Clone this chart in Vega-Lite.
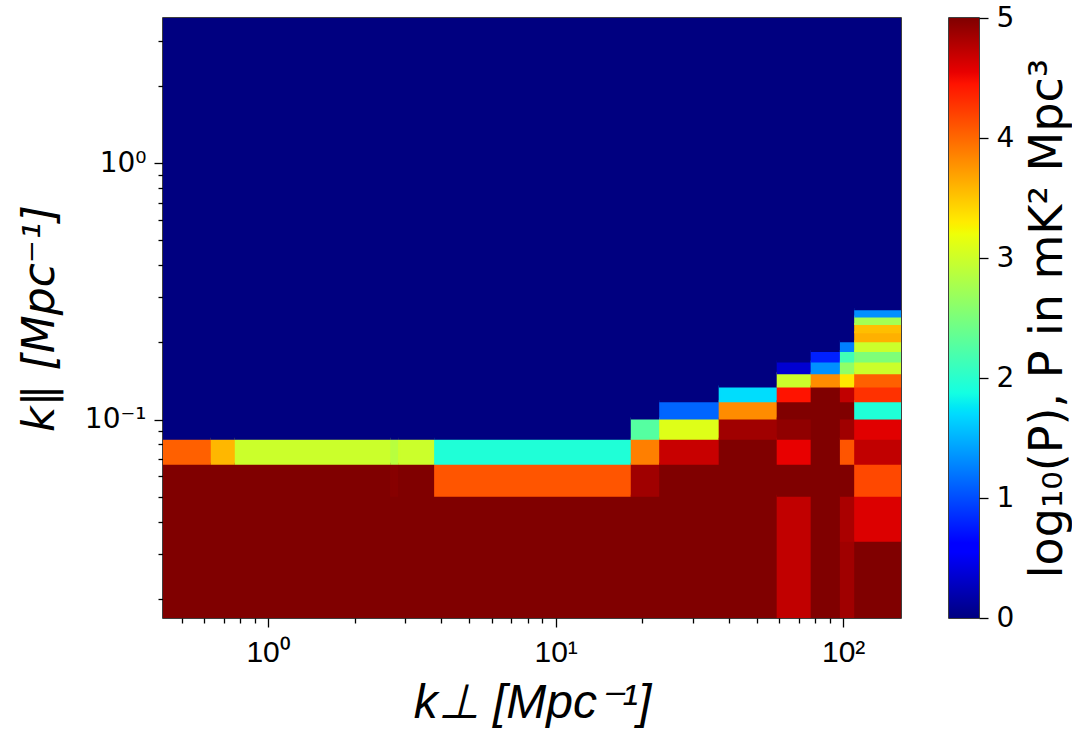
{
  "$schema": "https://vega.github.io/schema/vega-lite/v6.json",
  "background": "white",
  "padding": {"left": 17, "top": 3, "right": 0, "bottom": 0},
  "spacing": 46,
  "config": {
    "view": {"stroke": "black", "strokeWidth": 1.5},
    "axis": {"domain": false, "grid": false, "tickColor": "black", "tickWidth": 1.3, "labelColor": "black", "titleColor": "black", "labelFont": "DejaVu Sans", "titleFont": "DejaVu Sans", "labelFontSize": 28, "titleFontSize": 44, "titleFontWeight": "normal"}
  },
  "hconcat": [
    {
      "width": 738,
      "height": 600,
      "data": {"values": [
        {"k1": 0.431, "k2": 0.637, "p1": 0.0168, "p2": 0.0673, "v": 5},
        {"k1": 0.431, "k2": 0.637, "p1": 0.0673, "p2": 0.0842, "v": 4.04},
        {"k1": 0.431, "k2": 0.637, "p1": 0.0842, "p2": 3.68, "v": 0},
        {"k1": 0.637, "k2": 0.772, "p1": 0.0168, "p2": 0.0673, "v": 5},
        {"k1": 0.637, "k2": 0.772, "p1": 0.0673, "p2": 0.0842, "v": 3.58},
        {"k1": 0.637, "k2": 0.772, "p1": 0.0842, "p2": 3.68, "v": 0},
        {"k1": 0.772, "k2": 2.68, "p1": 0.0168, "p2": 0.0673, "v": 5},
        {"k1": 0.772, "k2": 2.68, "p1": 0.0673, "p2": 0.0842, "v": 2.99},
        {"k1": 0.772, "k2": 2.68, "p1": 0.0842, "p2": 3.68, "v": 0},
        {"k1": 2.68, "k2": 2.855, "p1": 0.0168, "p2": 0.0505, "v": 5},
        {"k1": 2.68, "k2": 2.855, "p1": 0.0505, "p2": 0.0673, "v": 4.97},
        {"k1": 2.68, "k2": 2.855, "p1": 0.0673, "p2": 0.0842, "v": 2.87},
        {"k1": 2.68, "k2": 2.855, "p1": 0.0842, "p2": 3.68, "v": 0},
        {"k1": 2.855, "k2": 3.81, "p1": 0.0168, "p2": 0.0673, "v": 5},
        {"k1": 2.855, "k2": 3.81, "p1": 0.0673, "p2": 0.0842, "v": 2.99},
        {"k1": 2.855, "k2": 3.81, "p1": 0.0842, "p2": 3.68, "v": 0},
        {"k1": 3.81, "k2": 18.4, "p1": 0.0168, "p2": 0.0505, "v": 5},
        {"k1": 3.81, "k2": 18.4, "p1": 0.0505, "p2": 0.0673, "v": 4.1},
        {"k1": 3.81, "k2": 18.4, "p1": 0.0673, "p2": 0.0842, "v": 1.94},
        {"k1": 3.81, "k2": 18.4, "p1": 0.0842, "p2": 3.68, "v": 0},
        {"k1": 18.4, "k2": 23.1, "p1": 0.0168, "p2": 0.0505, "v": 5},
        {"k1": 18.4, "k2": 23.1, "p1": 0.0505, "p2": 0.0673, "v": 4.86},
        {"k1": 18.4, "k2": 23.1, "p1": 0.0673, "p2": 0.0842, "v": 3.88},
        {"k1": 18.4, "k2": 23.1, "p1": 0.0842, "p2": 0.101, "v": 2.27},
        {"k1": 18.4, "k2": 23.1, "p1": 0.101, "p2": 3.68, "v": 0},
        {"k1": 23.1, "k2": 37.2, "p1": 0.0168, "p2": 0.0673, "v": 5},
        {"k1": 23.1, "k2": 37.2, "p1": 0.0673, "p2": 0.0842, "v": 4.69},
        {"k1": 23.1, "k2": 37.2, "p1": 0.0842, "p2": 0.101, "v": 3.1},
        {"k1": 23.1, "k2": 37.2, "p1": 0.101, "p2": 0.1178, "v": 1.12},
        {"k1": 23.1, "k2": 37.2, "p1": 0.1178, "p2": 3.68, "v": 0},
        {"k1": 37.2, "k2": 59.2, "p1": 0.0168, "p2": 0.0842, "v": 5},
        {"k1": 37.2, "k2": 59.2, "p1": 0.0842, "p2": 0.101, "v": 4.86},
        {"k1": 37.2, "k2": 59.2, "p1": 0.101, "p2": 0.1178, "v": 3.81},
        {"k1": 37.2, "k2": 59.2, "p1": 0.1178, "p2": 0.1346, "v": 1.71},
        {"k1": 37.2, "k2": 59.2, "p1": 0.1346, "p2": 3.68, "v": 0},
        {"k1": 59.2, "k2": 77.7, "p1": 0.0168, "p2": 0.0505, "v": 4.72},
        {"k1": 59.2, "k2": 77.7, "p1": 0.0505, "p2": 0.0673, "v": 5},
        {"k1": 59.2, "k2": 77.7, "p1": 0.0673, "p2": 0.0842, "v": 4.55},
        {"k1": 59.2, "k2": 77.7, "p1": 0.0842, "p2": 0.101, "v": 4.93},
        {"k1": 59.2, "k2": 77.7, "p1": 0.101, "p2": 0.1178, "v": 5},
        {"k1": 59.2, "k2": 77.7, "p1": 0.1178, "p2": 0.1346, "v": 4.45},
        {"k1": 59.2, "k2": 77.7, "p1": 0.1346, "p2": 0.1515, "v": 2.99},
        {"k1": 59.2, "k2": 77.7, "p1": 0.1515, "p2": 0.1683, "v": 0.35},
        {"k1": 59.2, "k2": 77.7, "p1": 0.1683, "p2": 3.68, "v": 0},
        {"k1": 77.7, "k2": 98.2, "p1": 0.0168, "p2": 0.1346, "v": 5},
        {"k1": 77.7, "k2": 98.2, "p1": 0.1346, "p2": 0.1515, "v": 3.81},
        {"k1": 77.7, "k2": 98.2, "p1": 0.1515, "p2": 0.1683, "v": 1.33},
        {"k1": 77.7, "k2": 98.2, "p1": 0.1683, "p2": 0.1851, "v": 0.78},
        {"k1": 77.7, "k2": 98.2, "p1": 0.1851, "p2": 3.68, "v": 0},
        {"k1": 98.2, "k2": 110.1, "p1": 0.0168, "p2": 0.0337, "v": 4.86},
        {"k1": 98.2, "k2": 110.1, "p1": 0.0337, "p2": 0.0505, "v": 4.82},
        {"k1": 98.2, "k2": 110.1, "p1": 0.0505, "p2": 0.0673, "v": 5},
        {"k1": 98.2, "k2": 110.1, "p1": 0.0673, "p2": 0.0842, "v": 4.1},
        {"k1": 98.2, "k2": 110.1, "p1": 0.0842, "p2": 0.101, "v": 4.86},
        {"k1": 98.2, "k2": 110.1, "p1": 0.101, "p2": 0.1178, "v": 5},
        {"k1": 98.2, "k2": 110.1, "p1": 0.1178, "p2": 0.1346, "v": 4.72},
        {"k1": 98.2, "k2": 110.1, "p1": 0.1346, "p2": 0.1515, "v": 3.32},
        {"k1": 98.2, "k2": 110.1, "p1": 0.1515, "p2": 0.1683, "v": 2.62},
        {"k1": 98.2, "k2": 110.1, "p1": 0.1683, "p2": 0.1851, "v": 2.14},
        {"k1": 98.2, "k2": 110.1, "p1": 0.1851, "p2": 0.202, "v": 1.25},
        {"k1": 98.2, "k2": 110.1, "p1": 0.202, "p2": 3.68, "v": 0},
        {"k1": 110.1, "k2": 158.9, "p1": 0.0168, "p2": 0.0337, "v": 5},
        {"k1": 110.1, "k2": 158.9, "p1": 0.0337, "p2": 0.0505, "v": 4.6},
        {"k1": 110.1, "k2": 158.9, "p1": 0.0505, "p2": 0.0673, "v": 4.17},
        {"k1": 110.1, "k2": 158.9, "p1": 0.0673, "p2": 0.0842, "v": 4.72},
        {"k1": 110.1, "k2": 158.9, "p1": 0.0842, "p2": 0.101, "v": 4.58},
        {"k1": 110.1, "k2": 158.9, "p1": 0.101, "p2": 0.1178, "v": 1.94},
        {"k1": 110.1, "k2": 158.9, "p1": 0.1178, "p2": 0.1346, "v": 4.29},
        {"k1": 110.1, "k2": 158.9, "p1": 0.1346, "p2": 0.1515, "v": 4.04},
        {"k1": 110.1, "k2": 158.9, "p1": 0.1515, "p2": 0.1683, "v": 2.99},
        {"k1": 110.1, "k2": 158.9, "p1": 0.1683, "p2": 0.1851, "v": 2.52},
        {"k1": 110.1, "k2": 158.9, "p1": 0.1851, "p2": 0.202, "v": 2.99},
        {"k1": 110.1, "k2": 158.9, "p1": 0.202, "p2": 0.2188, "v": 3.62},
        {"k1": 110.1, "k2": 158.9, "p1": 0.2188, "p2": 0.2356, "v": 3.54},
        {"k1": 110.1, "k2": 158.9, "p1": 0.2356, "p2": 0.2525, "v": 2.75},
        {"k1": 110.1, "k2": 158.9, "p1": 0.2525, "p2": 0.2693, "v": 1.33},
        {"k1": 110.1, "k2": 158.9, "p1": 0.2693, "p2": 3.68, "v": 0}
      ]},
      "mark": {"type": "rect", "strokeWidth": 2, "clip": true},
      "encoding": {
        "x": {
          "field": "k1", "type": "quantitative",
          "scale": {"type": "log", "domain": [0.431, 158.9], "nice": false},
          "axis": {
            "values": [0.5, 0.6, 0.7, 0.8, 0.9, 1, 2, 3, 4, 5, 6, 7, 8, 9, 10, 20, 30, 40, 50, 60, 70, 80, 90, 100],
            "labelExpr": "datum.value == 1 ? '10⁰' : datum.value == 10 ? '10¹' : datum.value == 100 ? '10²' : ''",
            "tickSize": {"condition": {"test": "datum.value == 1 || datum.value == 10 || datum.value == 100", "value": 9}, "value": 5},
            "labelFont": "Liberation Sans",
            "labelFontSize": 30,
            "labelPadding": 10,
            "labelOverlap": false,
            "title": "k⊥  [Mpc⁻¹]",
            "titleFont": "Liberation Sans",
            "titleFontStyle": "italic",
            "titleFontSize": 48,
            "titlePadding": 12
          }
        },
        "x2": {"field": "k2"},
        "y": {
          "field": "p1", "type": "quantitative",
          "scale": {"type": "log", "domain": [0.01683, 3.68], "nice": false},
          "axis": {
            "values": [0.02, 0.03, 0.04, 0.05, 0.06, 0.07, 0.08, 0.09, 0.1, 0.2, 0.3, 0.4, 0.5, 0.6, 0.7, 0.8, 0.9, 1, 2, 3],
            "labelExpr": "datum.value == 1 ? '10⁰' : datum.value == 0.1 ? '10⁻¹' : ''",
            "tickSize": {"condition": {"test": "datum.value == 1 || datum.value == 0.1", "value": 9}, "value": 5},
            "labelPadding": 8,
            "labelOverlap": false,
            "title": "k∥  [Mpc⁻¹]",
            "titleFontStyle": "italic",
            "titlePadding": 22
          }
        },
        "y2": {"field": "p2"},
        "color": {
          "field": "v", "type": "quantitative",
          "scale": {
            "type": "linear",
            "domain": [0, 0.55, 0.625, 1.7, 1.75, 1.875, 3.2, 3.25, 3.3, 4.45, 4.55, 5],
            "range": ["#000080", "#0000ff", "#0000ff", "#00dbff", "#00e6f7", "#14ffe2", "#eeff08", "#f7f500", "#ffec00", "#ff1300", "#e80000", "#800000"],
            "interpolate": "rgb", "clamp": true, "nice": false, "zero": false
          },
          "legend": null
        },
        "stroke": {
          "field": "v", "type": "quantitative",
          "scale": {
            "type": "linear",
            "domain": [0, 0.55, 0.625, 1.7, 1.75, 1.875, 3.2, 3.25, 3.3, 4.45, 4.55, 5],
            "range": ["#000080", "#0000ff", "#0000ff", "#00dbff", "#00e6f7", "#14ffe2", "#eeff08", "#f7f500", "#ffec00", "#ff1300", "#e80000", "#800000"],
            "interpolate": "rgb", "clamp": true, "nice": false, "zero": false
          },
          "legend": null
        }
      }
    },
    {
      "width": 30,
      "height": 600,
      "data": {"values": [{"lo": 0, "hi": 5}]},
      "mark": {
        "type": "rect",
        "fill": {
          "gradient": "linear", "x1": 0, "y1": 1, "x2": 0, "y2": 0,
          "stops": [
            {"offset": 0, "color": "#000080"},
            {"offset": 0.11, "color": "#0000ff"},
            {"offset": 0.125, "color": "#0000ff"},
            {"offset": 0.34, "color": "#00dbff"},
            {"offset": 0.35, "color": "#00e6f7"},
            {"offset": 0.375, "color": "#14ffe2"},
            {"offset": 0.64, "color": "#eeff08"},
            {"offset": 0.65, "color": "#f7f500"},
            {"offset": 0.66, "color": "#ffec00"},
            {"offset": 0.89, "color": "#ff1300"},
            {"offset": 0.91, "color": "#e80000"},
            {"offset": 1, "color": "#800000"}
          ]
        }
      },
      "encoding": {
        "y": {
          "field": "lo", "type": "quantitative",
          "scale": {"domain": [0, 5], "nice": false, "zero": false},
          "axis": {
            "orient": "right",
            "values": [0, 1, 2, 3, 4, 5],
            "tickSize": 9,
            "labelPadding": 8,
            "title": "log₁₀(P), P in mK² Mpc³",
            "titleFontSize": 46,
            "titleAngle": 270,
            "titleBaseline": "top",
            "titlePadding": 12
          }
        },
        "y2": {"field": "hi"}
      }
    }
  ]
}
